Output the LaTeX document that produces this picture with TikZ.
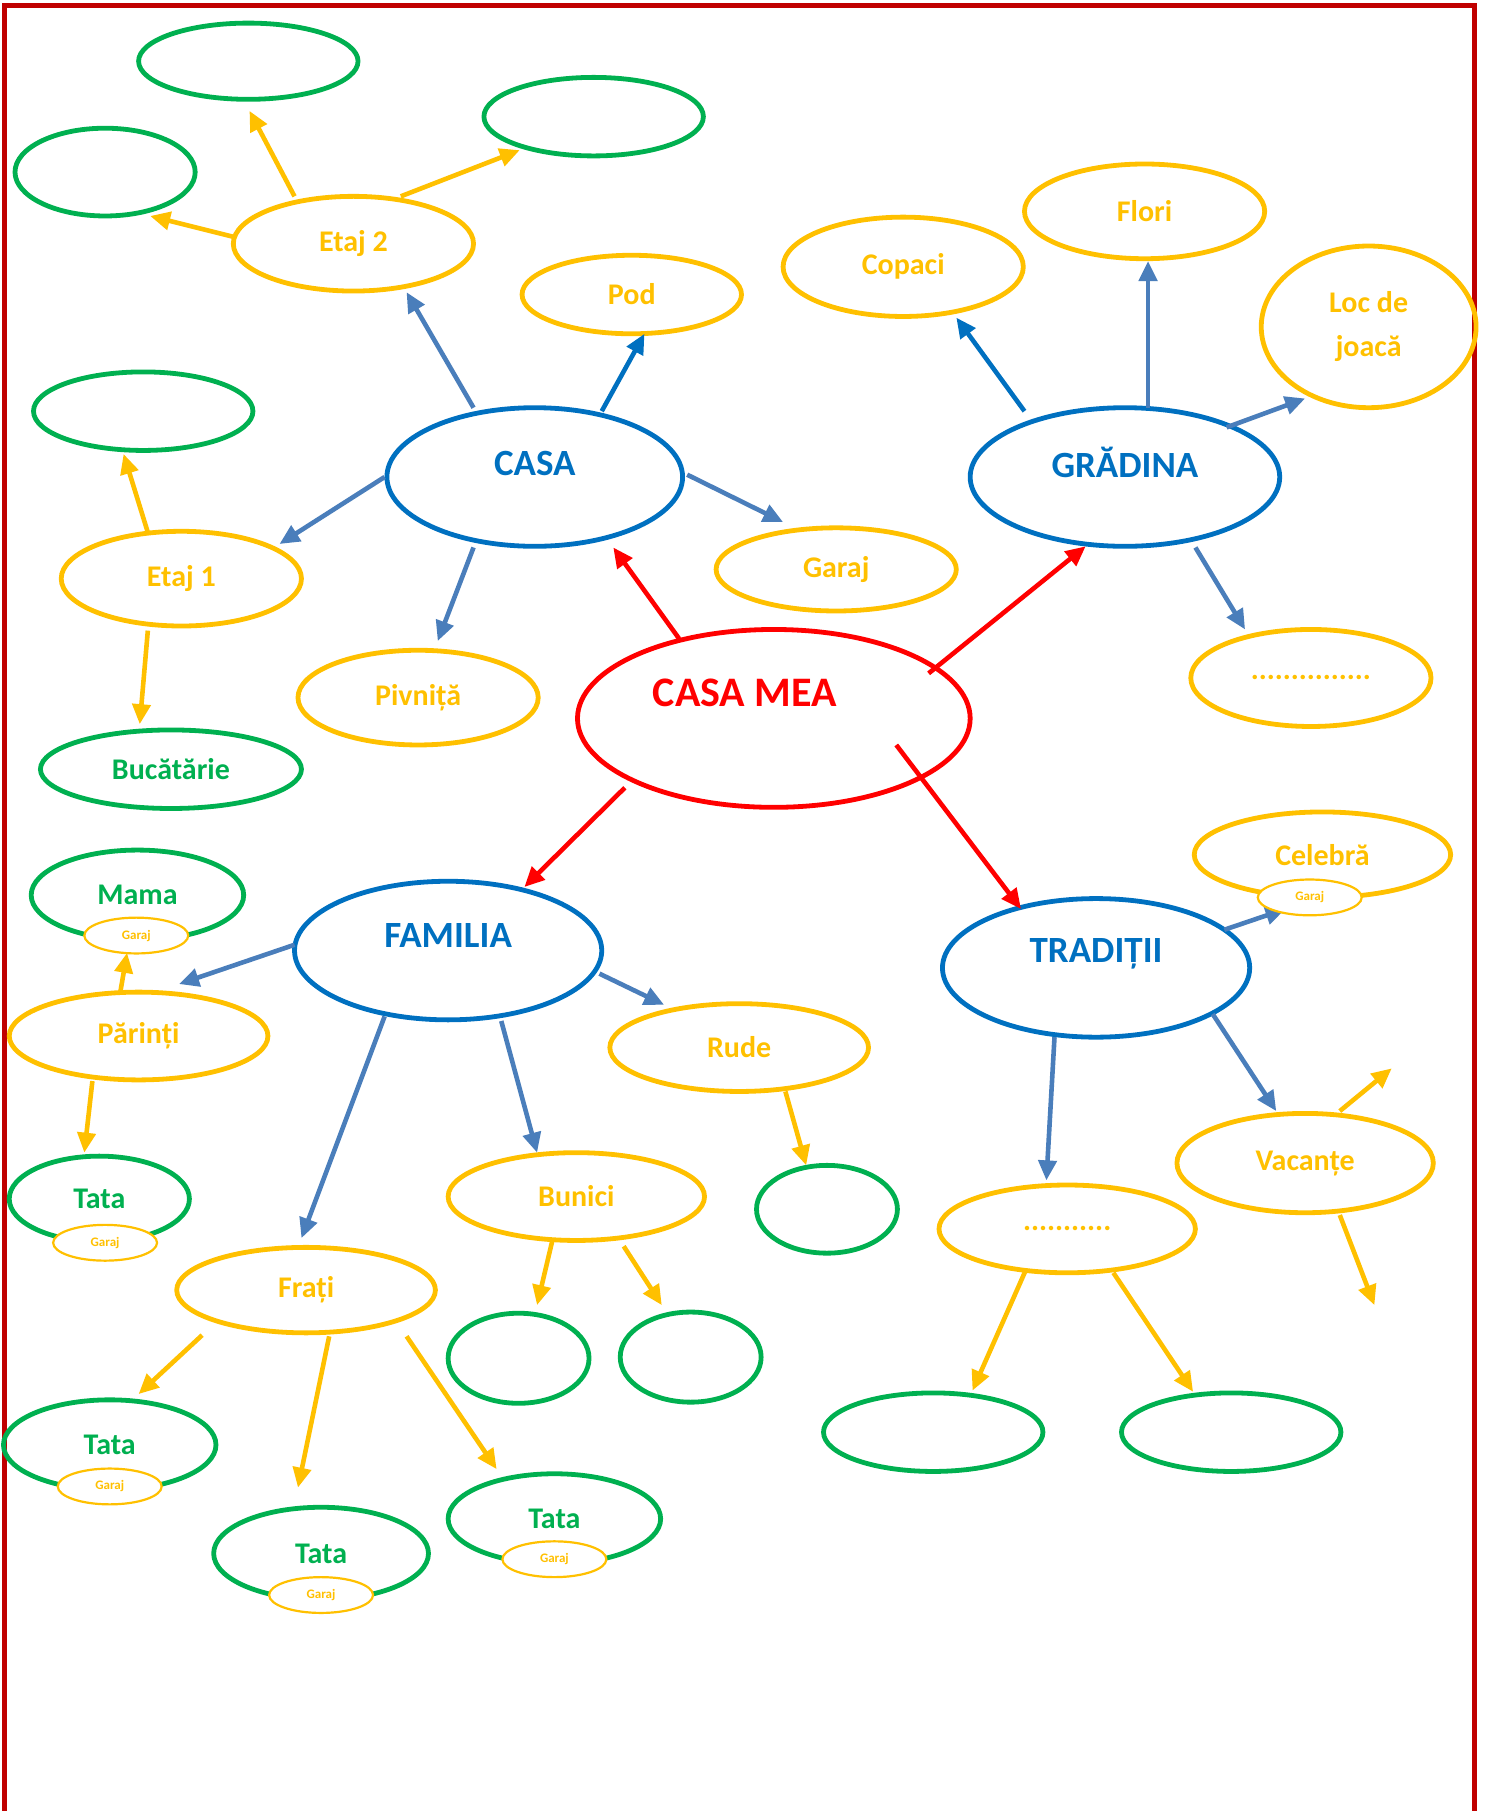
\documentclass[tikz,border=0pt]{standalone}
\usepackage{fontspec}
\setmainfont{Carlito}
\usetikzlibrary{shapes.geometric,arrows.meta}
\definecolor{cyel}{HTML}{FFC000}
\definecolor{cgrn}{HTML}{00B050}
\definecolor{cblu}{HTML}{0070C0}
\definecolor{carr}{HTML}{4A7EBB}
\definecolor{cred}{HTML}{FF0000}
\definecolor{cbrd}{HTML}{C00000}
\begin{document}
\begin{tikzpicture}[x=1.1546pt,y=-1.1546pt,
  ell/.style 2 args={ellipse, draw, line width=4.8pt, inner sep=0pt, align=center,
    minimum width={2*#1*1.1546pt}, minimum height={2*#2*1.1546pt}},
  yel/.style={cyel, text=cyel, font=\fontsize{30}{44}\selectfont\bfseries},
  grn/.style={cgrn, text=cgrn, font=\fontsize{30}{44}\selectfont\bfseries},
  blu/.style={cblu},
  rde/.style={cred},
  gar/.style={ellipse, draw=cyel, fill=white, line width=2.2pt, inner sep=0pt, text=cyel,
    minimum width={90*1.1546pt}, minimum height={31*1.1546pt}, font=\fontsize{13}{15}\selectfont\bfseries},
  btxt/.style={text=cblu, font=\fontsize{37}{44}\selectfont\bfseries, inner sep=0pt},
  rtxt/.style={text=cred, font=\fontsize{42}{48}\selectfont\bfseries, inner sep=0pt},
  arw/.style={line width=4.6pt, -{Triangle[length=20pt,width=18pt]}},
  ya/.style={arw, cyel},
  ba/.style={arw, carr},
  da/.style={arw, cblu},
  ra/.style={arw, cred},
]
\useasboundingbox (0,0) rectangle (1287,1568);
\draw[cbrd, line width=5pt] (3.5,1568) -- (3.5,4.8) -- (1276.6,4.8) -- (1276.6,1568);

% ellipses
\node[ell={95}{33}, grn] (g1) at (215,53) {};
\node[ell={78}{38}, grn] (g2) at (91,149) {};
\node[ell={95}{34}, grn] (g3) at (514,101) {};
\node[ell={104}{41}, yel] (etaj2) at (306,211) {Etaj 2};
\node[ell={95}{34}, yel] (pod) at (547,255) {Pod};
\node[ell={95}{34}, grn] (g4) at (124,356) {};
\node[ell={128}{60}, blu] (casa) at (463,413) {};
\node[btxt] (casat) at (463,401) {CASA};
\node[ell={104}{41}, yel] (etaj1) at (157,501) {Etaj 1};
\node[ell={104}{36}, yel] (garaj) at (724,493) {Garaj};
\node[ell={104}{41}, yel] (pivnita) at (362,604) {Pivniță};
\node[ell={113}{34}, grn] (bucatarie) at (148,666) {Bucătărie};
\node[ell={170}{77}, rde] (cm) at (670,622) {};
\node[rtxt] (cmt) at (645,600) {CASA MEA};
\node[ell={104}{43}, yel] (copaci) at (782,231) {Copaci};
\node[ell={104}{41}, yel] (flori) at (991,183) {Flori};
\node[ell={93}{70}, yel] (loc) at (1185,283) {Loc de\\joacă};
\node[ell={134}{60}, blu] (gradina) at (974,413) {};
\node[btxt] (gradinat) at (974,400) {GRĂDINA};
\node[ell={104}{42}, yel] (dots1) at (1135,587) {...............};
\node[ell={92}{39}, grn] (mama) at (119,775) {Mama};
\node[ell={133}{60}, blu] (familia) at (388,823) {};
\node[btxt] (familiat) at (388,810) {FAMILIA};
\node[ell={112}{38}, yel] (parinti) at (120,897) {Părinți};
\node[ell={112}{38}, yel] (rude) at (640,907) {Rude};
\node[ell={111}{37}, yel] (celebra) at (1145,740) {Celebră};
\node[ell={133}{60}, blu] (traditii) at (949,838) {};
\node[btxt] (traditiit) at (949,826) {TRADIȚII};
\node[ell={78}{37}, grn] (tata1) at (86,1038) {Tata};
\node[ell={111}{38}, yel] (bunici) at (499,1036) {Bunici};
\node[ell={61}{38}, grn] (g5) at (716,1047) {};
\node[ell={111}{43}, yel] (vacante) at (1130,1007) {Vacanțe};
\node[ell={111}{38}, yel] (dots2) at (924,1064) {...........};
\node[ell={112}{37}, yel] (frati) at (265,1117) {Frați};
\node[ell={61}{39}, grn] (g6) at (449,1176) {};
\node[ell={61}{39}, grn] (g7) at (598,1175) {};
\node[ell={95}{34}, grn] (g8) at (808,1240) {};
\node[ell={95}{34}, grn] (g9) at (1066,1240) {};
\node[ell={92}{39}, grn] (tata2) at (95,1251) {Tata};
\node[ell={93}{40}, grn] (tata3) at (278,1345) {Tata};
\node[ell={92}{39}, grn] (tata4) at (480,1315) {Tata};

\coordinate (vup) at (1205,925);
\coordinate (vdown) at (1190,1130);

% arrows from CASA
\draw[ba] ([shift={(-53,-60)}]casa.center) -- ([shift={(46,42)}]etaj2.center);
\draw[da] ([shift={(58,-57)}]casa.center) -- ([shift={(11,34)}]pod.center);
\draw[ba] ([shift={(132,-2)}]casa.center) -- ([shift={(-46,-41)}]garaj.center);
\draw[ba] ([shift={(-53,61)}]casa.center) -- ([shift={(17,-49)}]pivnita.center);
\draw[ba] ([shift={(-130,0)}]casa.center) -- ([shift={(85,-30)}]etaj1.center);
% Etaj 2
\draw[ya] ([shift={(-51,-41)}]etaj2.center) -- ([shift={(1,43)}]g1.center);
\draw[ya] ([shift={(-104,-6)}]etaj2.center) -- ([shift={(39,38)}]g2.center);
\draw[ya] ([shift={(41,-41)}]etaj2.center) -- ([shift={(-64,29)}]g3.center);
% Etaj 1
\draw[ya] ([shift={(-29,-40)}]etaj1.center) -- ([shift={(-17,37)}]g4.center);
\draw[ya] ([shift={(-29,45)}]etaj1.center) -- ([shift={(-27,-39)}]bucatarie.center);
% CASA MEA
\draw[ra] ([shift={(-82,-69)}]cm.center) -- ([shift={(68,61)}]casa.center);
\draw[ra] ([shift={(134,-39)}]cm.center) -- ([shift={(-34,60)}]gradina.center);
\draw[ra] ([shift={(-129,60)}]cm.center) -- ([shift={(66,-55)}]familia.center);
\draw[ra] ([shift={(106,23)}]cm.center) -- ([shift={(-65,-51)}]traditii.center);
% GRADINA
\draw[da] ([shift={(-87,-57)}]gradina.center) -- ([shift={(46,44)}]copaci.center);
\draw[ba] ([shift={(20,-60)}]gradina.center) -- ([shift={(3,43)}]flori.center);
\draw[ba] ([shift={(88,-43)}]gradina.center) -- ([shift={(-55,62)}]loc.center);
\draw[ba] ([shift={(61,61)}]gradina.center) -- ([shift={(-57,-42)}]dots1.center);
% FAMILIA
\draw[ba] ([shift={(-133,-5)}]familia.center) -- ([shift={(35,-45)}]parinti.center);
\draw[ba] ([shift={(131,20)}]familia.center) -- ([shift={(-65,-37)}]rude.center);
\draw[ba] ([shift={(-55,57)}]familia.center) -- ([shift={(-4,-45)}]frati.center);
\draw[ba] ([shift={(46,61)}]familia.center) -- ([shift={(-34,-38)}]bunici.center);
% Parinti
\draw[ya] ([shift={(-16,-37)}]parinti.center) -- ([shift={(-9,50)}]mama.center);
\draw[ya] ([shift={(-40,39)}]parinti.center) -- ([shift={(-13,-40)}]tata1.center);
% Rude, Bunici
\draw[ya] ([shift={(40,38)}]rude.center) -- ([shift={(-18,-38)}]g5.center);
\draw[ya] ([shift={(-21,39)}]bunici.center) -- ([shift={(16,-46)}]g6.center);
\draw[ya] ([shift={(41,43)}]bunici.center) -- ([shift={(-25,-45)}]g7.center);
% Frati
\draw[ya] ([shift={(-90,39)}]frati.center) -- ([shift={(25,-44)}]tata2.center);
\draw[ya] ([shift={(20,40)}]frati.center) -- ([shift={(-20,-57)}]tata3.center);
\draw[ya] ([shift={(87,40)}]frati.center) -- ([shift={(-50,-43)}]tata4.center);
% TRADITII
\draw[ba] ([shift={(111,-33)}]traditii.center) -- ([shift={(-32,47)}]celebra.center);
\draw[ba] ([shift={(101,40)}]traditii.center) -- ([shift={(-25,-45)}]vacante.center);
\draw[ba] ([shift={(-36,60)}]traditii.center) -- ([shift={(-18,-42)}]dots2.center);
% Vacante
\draw[ya] ([shift={(30,-45)}]vacante.center) -- (vup);
\draw[ya] ([shift={(30,45)}]vacante.center) -- (vdown);
% dots2
\draw[ya] ([shift={(-36,36)}]dots2.center) -- ([shift={(34,-36)}]g8.center);
\draw[ya] ([shift={(40,38)}]dots2.center) -- ([shift={(-33,-35)}]g9.center);

% small Garaj ellipses
\node[gar] (mamag) at (118,810) {Garaj};
\node[gar] (celebrag) at (1134,777) {Garaj};
\node[gar] (tata1g) at (91,1076) {Garaj};
\node[gar] (tata2g) at (95,1287) {Garaj};
\node[gar] (tata3g) at (278,1381) {Garaj};
\node[gar] (tata4g) at (480,1350) {Garaj};
\end{tikzpicture}
\end{document}
